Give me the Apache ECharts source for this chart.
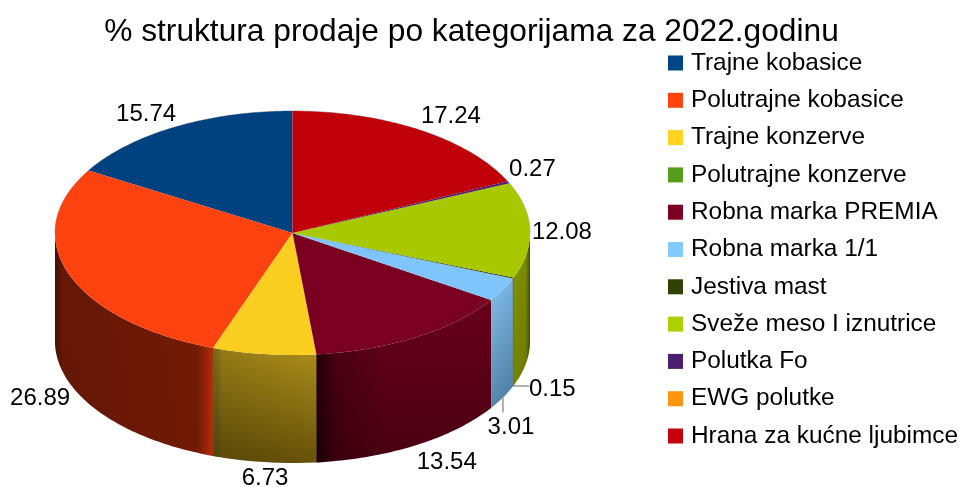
<!DOCTYPE html>
<html>
<head>
<meta charset="utf-8">
<style>html,body{margin:0;padding:0;background:#fff}#c{width:961px;height:487px}</style>
<script src="https://cdn.jsdelivr.net/npm/echarts@6/dist/echarts.min.js"></script>
</head>
<body>
<div id="c"></div>
<script>
const categories = ['Trajne kobasice','Polutrajne kobasice','Trajne konzerve','Polutrajne konzerve','Robna marka PREMIA','Robna marka 1/1','Jestiva mast','Sveže meso I iznutrice','Polutka Fo','EWG polutke','Hrana za kućne ljubimce'];
const shares = [15.74,26.89,6.73,0,13.54,3.01,0.15,12.08,0.27,0,17.24];
const colors = ['#004586','#ff420e','#ffd320','#579d1c','#7e0021','#83caff','#314004','#aecf00','#4b1f6f','#ff950e','#c5000b'];
const faceColors = ['#004280','#fc430f','#f9ce20','#579d1c','#7a0022','#7fc4fa','#314004','#a8c800','#4b1f6f','#ff950e','#bf000a'];
const wallTop = ['#004586','#6a1906','#ad8f1a','#579d1c','#680019','#7dbdec','#1a2200','#8d9f00','#4b1f6f','#ff950e','#c5000b'];
const wallBottom = ['#004586','#691805','#665209','#579d1c','#480011','#4b7ea6','#1a2200','#7a8a00','#4b1f6f','#ff950e','#c5000b'];
const wallShade = [
  null,
  [[0,'rgba(0,0,0,0.35)'],[0.05,'rgba(0,0,0,0.05)'],[0.9,'rgba(255,60,10,0.05)'],[1,'rgba(255,70,15,0.5)']],
  [[0,'rgba(50,70,40,0.5)'],[0.08,'rgba(0,0,0,0.14)'],[1,'rgba(0,0,0,0)']],
  null,
  [[0,'rgba(0,0,0,0.65)'],[0.12,'rgba(0,0,0,0.2)'],[0.4,'rgba(0,0,0,0)'],[1,'rgba(0,0,0,0)']],
  [[0,'rgba(255,255,255,0.08)'],[1,'rgba(0,0,0,0.05)']],
  null,
  [[0,'rgba(0,0,0,0.05)'],[0.75,'rgba(0,0,0,0.12)'],[1,'rgba(0,0,0,0.5)']],
  null, null, null
];
const labelShift = [[-29,-13],[-29,16],[1,16],null,[31,17],[8,30],[39,3],[32,2],[24,-13],null,[31,-14]];
const leaderLen = [null,null,null,null,null,[0,15],[16,0],null,null,null,null];

const cx = 292.5, cy = 233, rx = 237.5, ry = 122, depth = 108;
const total = shares.reduce((a, b) => a + b, 0);
const startOf = i => shares.slice(0, i).reduce((a, b) => a + b, 0) / total * Math.PI * 2;
const rim = (t, h) => [cx - rx * Math.sin(t), cy - ry * Math.cos(t) + h];
const arc = (a, b, h) => {
  const n = Math.max(2, Math.ceil((b - a) / (Math.PI / 180)));
  const out = [];
  for (let k = 0; k <= n; k++) out.push(rim(a + (b - a) * k / n, h));
  return out;
};
const grad = (x2, y2, stops) => ({type:'linear', x:0, y:0, x2, y2, colorStops: stops.map(s => ({offset:s[0], color:s[1]}))});

function slice(i) {
  return function (params, api) {
    const value = api.value(0);
    const kids = [];
    if (!(value > 0)) return {type:'group', children:kids};
    const a = startOf(i), b = a + value / total * Math.PI * 2;
    const mid = (a + b) / 2;
    kids.push({type:'polygon', silent:true, shape:{points:[[cx, cy]].concat(arc(a, b, 0))}, style:{fill:faceColors[i]}, z2:10});
    const fa = Math.max(a, Math.PI / 2), fb = Math.min(b, Math.PI * 1.5);
    if (fb > fa) {
      const pts = arc(fa, fb, 0).concat(arc(fa, fb, depth).reverse());
      kids.push({type:'polygon', silent:true, shape:{points:pts}, style:{fill:grad(0, 1, [[0, wallTop[i]], [1, wallBottom[i]]])}, z2:5});
      if (wallShade[i]) kids.push({type:'polygon', silent:true, shape:{points:pts}, style:{fill:grad(1, 0, wallShade[i])}, z2:6});
    }
    const backRanges = [[a, Math.min(b, Math.PI / 2)], [Math.max(a, Math.PI * 1.5), b]];
    backRanges.forEach(r => {
      if (r[1] > r[0]) kids.push({type:'polyline', silent:true, shape:{points:arc(r[0], r[1], 0)}, style:{stroke:'rgba(0,0,0,0.3)', lineWidth:1, fill:null}, z2:8});
    });
    const front = Math.abs(mid - Math.PI) < Math.PI / 2;
    const anchor = rim(mid, front ? depth : 0);
    const shift = labelShift[i];
    if (leaderLen[i]) {
      kids.push({type:'line', silent:true, shape:{x1:anchor[0], y1:anchor[1], x2:anchor[0] + leaderLen[i][0], y2:anchor[1] + leaderLen[i][1]}, style:{stroke:'#666', lineWidth:1}, z2:20});
    }
    kids.push({type:'text', silent:true, x:anchor[0] + shift[0], y:anchor[1] + shift[1],
      style:{text:String(value), fill:'#000', font:'24px "Liberation Sans"', align:'center', verticalAlign:'middle'}, z2:30});
    return {type:'group', children:kids};
  };
}

const chart = echarts.init(document.getElementById('c'), null, {renderer:'canvas'});
chart.setOption({
  animation:false,
  backgroundColor:'#fff',
  title:{text:'% struktura prodaje po kategorijama za 2022.godinu', left:466.5, top:11, textAlign:'center',
    textStyle:{fontFamily:'Liberation Sans', fontWeight:'normal', fontSize:31.7, color:'#000'}},
  legend:{orient:'vertical', left:668, top:51, height:436, width:293, padding:0, itemWidth:15, itemHeight:15, itemGap:13.3, icon:'rect', selectedMode:false,
    data:categories, textStyle:{fontFamily:'Liberation Sans', fontSize:24.4, color:'#000', padding:[0,0,0,3]}},
  tooltip:{show:false},
  series:categories.map((name, i) => ({
    type:'custom', name, coordinateSystem:'none', silent:true,
    itemStyle:{color:colors[i]},
    data:[[shares[i]]],
    renderItem:slice(i)
  }))
});
</script>
</body>
</html>
